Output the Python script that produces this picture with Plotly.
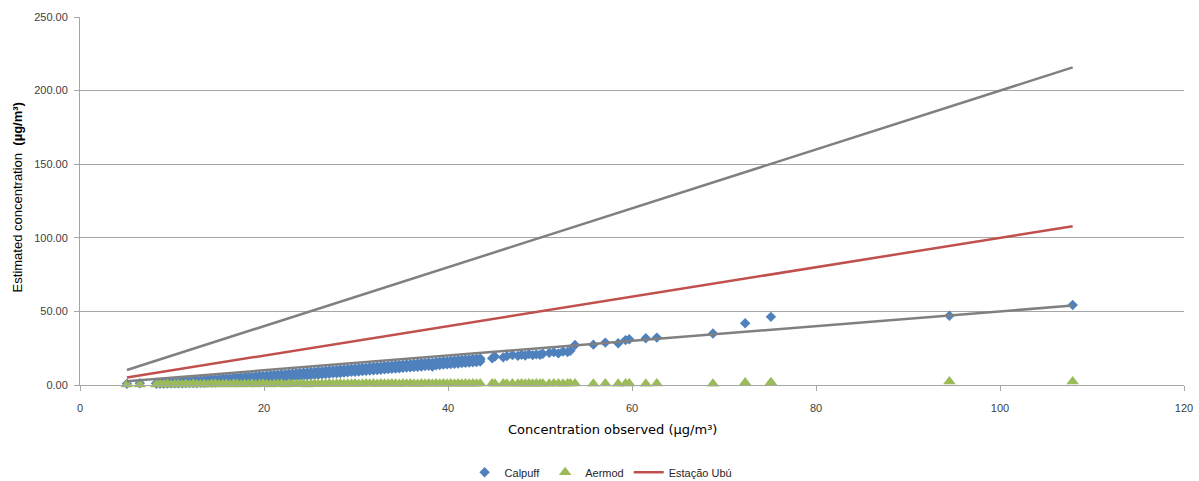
import plotly.graph_objects as go

# ---------------- data ----------------
# dense part of the cloud (observed values, with three estimated Calpuff levels per observed value)
obs_dense = [
    8.3, 8.7, 9.1, 9.5, 9.9, 10.3, 10.7, 11.1, 11.5, 11.9,
    12.3, 12.7, 13.1, 13.5, 13.9, 14.3, 14.7, 15.1, 15.5, 15.9,
    16.3, 16.7, 17.1, 17.5, 17.9, 18.3, 18.7, 19.1, 19.5, 19.9,
    20.3, 20.7, 21.1, 21.5, 21.9, 22.3, 22.7, 23.1, 23.5, 23.9,
    24.3, 24.7, 25.1, 25.5, 25.9, 26.3, 26.7, 27.1, 27.5, 27.9,
    28.3, 28.7, 29.1, 29.5, 29.9, 30.3, 30.7, 31.1, 31.5, 31.9,
    32.3, 32.7, 33.1, 33.5, 33.9, 34.3, 34.7, 35.1, 35.5, 35.9,
    36.3, 36.7, 37.1, 37.5, 37.9, 38.3, 38.7, 39.1, 39.5, 39.9,
    40.3, 40.7, 41.1, 41.5, 41.9, 42.3, 42.7, 43.1, 43.5,
]
calpuff_high = [
    1.2, 1.3, 1.4, 1.5, 1.8, 1.9, 2.0, 2.4, 2.5, 2.6,
    2.9, 3.0, 3.1, 3.5, 3.5, 3.8, 3.9, 4.0, 4.4, 4.4,
    4.7, 4.8, 4.9, 5.3, 5.3, 5.6, 5.6, 5.9, 6.2, 6.2,
    6.5, 6.6, 6.9, 7.0, 7.3, 7.4, 7.7, 7.8, 8.1, 8.2,
    8.5, 8.6, 8.9, 9.0, 9.3, 9.4, 9.7, 9.8, 10.1, 10.2,
    10.5, 10.6, 10.9, 11.0, 11.3, 11.4, 11.7, 11.8, 12.1, 12.2,
    12.5, 12.6, 12.9, 13.0, 13.3, 13.4, 13.7, 13.8, 14.1, 14.2,
    14.5, 14.6, 14.9, 15.0, 15.3, 15.1, 15.7, 15.8, 16.1, 16.2,
    16.5, 16.6, 16.9, 17.0, 17.3, 17.4, 17.7, 17.8, 18.1,
]
calpuff_mid = [
    1.1, 1.1, 1.2, 1.2, 1.3, 1.3, 1.4, 1.4, 1.6, 1.6,
    1.8, 2.1, 2.1, 2.5, 2.5, 2.7, 3.0, 3.0, 3.4, 3.4,
    3.6, 3.9, 3.9, 4.3, 4.3, 4.5, 4.8, 4.8, 5.2, 5.2,
    5.4, 5.7, 5.8, 6.1, 6.2, 6.4, 6.7, 6.8, 7.1, 7.2,
    7.4, 7.7, 7.8, 8.1, 8.2, 8.4, 8.7, 8.8, 9.1, 9.2,
    9.4, 9.7, 9.8, 10.1, 10.2, 10.4, 10.7, 10.8, 11.1, 11.2,
    11.4, 11.7, 11.8, 12.1, 12.2, 12.4, 12.7, 12.8, 13.1, 13.2,
    13.4, 13.7, 13.8, 14.1, 14.2, 14.1, 14.7, 14.8, 15.1, 15.2,
    15.4, 15.7, 15.8, 16.1, 16.2, 16.4, 16.7, 16.8, 17.1,
]
calpuff_low = [
    1.0, 1.0, 1.1, 1.1, 1.2, 1.2, 1.2, 1.3, 1.3, 1.3,
    1.4, 1.4, 1.5, 1.5, 1.6, 1.6, 1.7, 1.9, 2.1, 2.2,
    2.4, 2.6, 2.8, 3.0, 3.1, 3.3, 3.5, 3.7, 3.9, 4.0,
    4.2, 4.4, 4.6, 4.9, 5.0, 5.2, 5.4, 5.6, 5.9, 6.0,
    6.2, 6.4, 6.6, 6.9, 7.0, 7.2, 7.4, 7.6, 7.9, 8.0,
    8.2, 8.4, 8.6, 8.9, 9.0, 9.2, 9.4, 9.6, 9.9, 10.0,
    10.2, 10.4, 10.6, 10.9, 11.0, 11.2, 11.4, 11.6, 11.9, 12.0,
    12.2, 12.4, 12.6, 12.9, 13.0, 12.6, 13.4, 13.6, 13.9, 14.0,
    14.2, 14.4, 14.6, 14.9, 15.0, 15.2, 15.4, 15.6, 15.9,
]
aermod_dense = [
    0.3, 0.6, 0.4, 0.8, 0.2, 0.5, 0.7, 0.3, 0.6, 0.4,
    0.8, 0.5, 0.3, 0.7, 0.4, 0.6, 0.9, 0.3, 0.5, 0.7,
    0.4, 0.8, 0.6, 0.3, 0.7, 0.5, 0.9, 0.4, 0.6, 0.8,
    0.5, 0.3, 0.7, 0.6, 0.9, 0.4, 0.8, 0.5, 0.7, 0.6,
    0.9, 0.4, 0.7, 0.8, 0.5, 0.9, 0.6, 1.0, 0.7, 0.8,
    1.0, 0.6, 0.9, 0.8, 1.1, 0.7, 0.9, 1.0, 0.8, 1.1,
    0.7, 1.0, 0.9, 0.8, 1.1, 0.9, 0.7, 1.0, 0.8, 1.1,
    0.9, 0.7, 1.0, 0.8, 1.1, 0.9, 1.0, 0.8, 1.1, 0.9,
    1.0, 0.8, 1.1, 0.9, 1.0, 0.8, 1.1, 0.9, 1.0,
]

# individually visible points
obs_sparse = [
    5.1, 6.5,
    44.8, 45.1, 46.0, 46.4, 47.0, 47.6, 48.0, 48.4, 48.8, 49.2,
    49.6, 50.0, 50.3, 51.0, 51.5, 52.0, 52.5, 53.0, 53.3,
    53.8, 55.8, 57.1, 58.5, 59.3, 59.7, 61.5, 62.7, 68.8, 72.3, 75.1, 94.5, 107.9,
]
calpuff_sparse = [
    0.8, 1.2,
    18.2, 19.4, 18.8, 19.6, 20.4, 19.8, 20.6, 20.0, 21.0, 20.3,
    20.8, 20.5, 21.2, 21.8, 22.3, 21.5, 22.8, 22.4, 23.2,
    27.2, 27.4, 28.8, 28.4, 30.5, 31.1, 31.8, 32.2, 35.0, 42.0, 46.3, 47.0, 54.3,
]
aermod_sparse = [
    0.3, 0.4,
    1.0, 0.9, 1.1, 0.8, 1.0, 0.9, 1.1, 0.8, 1.0, 0.9,
    1.1, 0.8, 1.0, 0.9, 1.1, 1.0, 0.9, 1.1, 1.0,
    1.0, 0.9, 1.0, 0.9, 1.1, 1.0, 0.9, 1.0, 0.8, 1.7, 1.8, 2.3, 2.3,
]

# reference lines (1:1 station line and factor-of-two envelope)
line_x = [5.1, 107.9]
station_line = [5.1, 107.9]
upper_line = [10.2, 215.8]
lower_line = [2.55, 53.95]

x_ticks = [0, 20, 40, 60, 80, 100, 120]
y_ticks = [0, 50, 100, 150, 200, 250]

assert len(obs_dense) == len(calpuff_high) == len(calpuff_mid) == len(calpuff_low) == len(aermod_dense)
assert len(obs_sparse) == len(calpuff_sparse) == len(aermod_sparse)

calpuff_x = obs_dense * 3 + obs_sparse
calpuff_y = calpuff_high + calpuff_mid + calpuff_low + calpuff_sparse
aermod_x = obs_dense + obs_sparse
aermod_y = aermod_dense + aermod_sparse

# ---------------- figure ----------------
fig = go.Figure()

fig.add_trace(go.Scatter(
    x=calpuff_x, y=calpuff_y, mode="markers", name="Calpuff", cliponaxis=False,
    marker=dict(symbol="diamond", size=8, color="#4F81BD", line=dict(width=0)),
))
fig.add_trace(go.Scatter(
    x=aermod_x, y=aermod_y, mode="markers", name="Aermod", cliponaxis=False,
    marker=dict(symbol="triangle-up", size=11, color="#9BBB59", line=dict(width=0)),
))
fig.add_trace(go.Scatter(
    x=line_x, y=station_line, mode="lines", name="Estação Ubú",
    line=dict(color="#C0504D", width=2.5),
))
fig.add_trace(go.Scatter(
    x=line_x, y=upper_line, mode="lines", showlegend=False,
    line=dict(color="#808080", width=2.5), hoverinfo="skip",
))
fig.add_trace(go.Scatter(
    x=line_x, y=lower_line, mode="lines", showlegend=False,
    line=dict(color="#808080", width=2.5), hoverinfo="skip",
))

fig.update_layout(
    width=1199, height=481,
    margin=dict(l=80, r=15, t=17, b=96, autoexpand=False),
    paper_bgcolor="white", plot_bgcolor="white",
    font=dict(family="Liberation Sans, Arial, sans-serif", size=11, color="#404040"),
    showlegend=True,
    legend=dict(
        orientation="h", x=0.472, xanchor="center", y=-0.237, yanchor="middle",
        font=dict(family="Liberation Sans, Arial, sans-serif", size=11, color="#262626"),
        itemwidth=30,
    ),
    xaxis=dict(
        range=[0, 120], tickvals=x_ticks, ticktext=[str(v) for v in x_ticks],
        showgrid=False, zeroline=False, automargin=False,
        showline=True, linecolor="#A6A6A6", linewidth=1,
        ticks="outside", ticklen=5, tickcolor="#A6A6A6",
        ticklabelstandoff=8,
        tickfont=dict(size=11, color="#404040"),
    ),
    yaxis=dict(
        range=[0, 250], tickvals=y_ticks, ticktext=[f"{v:.2f}" for v in y_ticks],
        showgrid=True, gridcolor="#A6A6A6", gridwidth=1, zeroline=False, automargin=False,
        showline=True, linecolor="#A6A6A6", linewidth=1,
        ticks="outside", ticklen=5, tickcolor="#A6A6A6",
        ticklabelstandoff=4,
        tickfont=dict(size=11, color="#404040"),
    ),
)

fig.add_annotation(
    text="Concentration observed (µg/m³)",
    xref="paper", yref="paper", x=0.482, y=-0.122,
    xanchor="center", yanchor="middle", showarrow=False,
    font=dict(family="DejaVu Sans, Verdana, sans-serif", size=13, color="#000000"),
)
fig.add_annotation(
    text="Estimated concentration  <b>(µg/m³)</b>",
    xref="paper", yref="paper", x=-0.057, y=0.51,
    xanchor="center", yanchor="middle", showarrow=False, textangle=-90,
    font=dict(family="Liberation Sans Narrow, Liberation Sans, Arial, sans-serif", size=13, color="#000000"),
)

fig.write_html(
    "out.html",
    config={"displayModeBar": False, "responsive": False},
    post_script="document.body.style.margin='0';document.body.style.overflow='hidden';",
)
